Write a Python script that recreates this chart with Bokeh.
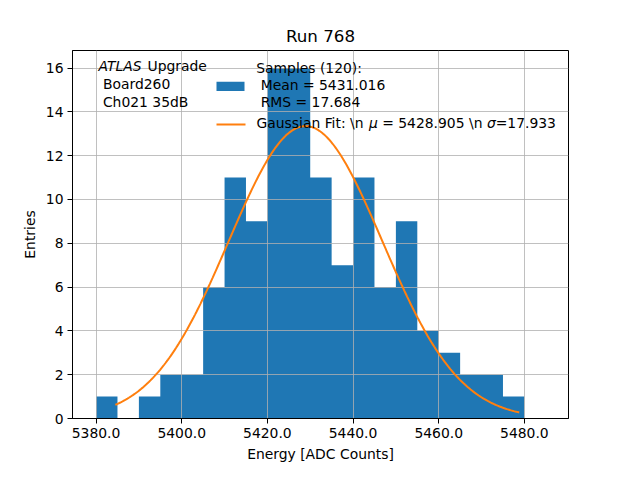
import numpy as np
from bokeh.models import BoxAnnotation, FixedTicker, Label, PrintfTickFormatter, Range1d
from bokeh.plotting import figure
from bokeh.embed import file_html
from bokeh.resources import INLINE

# histogram of the 120 samples, 5 ADC-count bins
bin_edges = [5380, 5385, 5390, 5395, 5400, 5405, 5410, 5415, 5420, 5425, 5430,
             5435, 5440, 5445, 5450, 5455, 5460, 5465, 5470, 5475, 5480]
entries = [1, 0, 1, 2, 2, 6, 11, 9, 16, 16, 11, 7, 11, 6, 9, 4, 3, 2, 2, 1]

# gaussian fit result
fit_mu = 5428.905
fit_sigma = 17.933
fit_xmin = 5384.5
fit_xmax = 5478.8

x_ticks = [5380, 5400, 5420, 5440, 5460, 5480]
y_ticks = [0, 2, 4, 6, 8, 10, 12, 14, 16]

BLUE = "#1f77b4"
ORANGE = "#ff7f0e"
FONT = "DejaVu Sans"
FS = "13.9px"

XMIN, XMAX = 5374.5, 5490.3
YMAX = 16.8


def dx(px):
    # reference pixel column -> data x
    return XMIN + (px - 80) * (XMAX - XMIN) / 496


def dy(py):
    # reference pixel row -> data y
    return (427 - py) * YMAX / 369


n_samples = sum(entries)
bin_width = bin_edges[1] - bin_edges[0]
fit_x = np.linspace(fit_xmin, fit_xmax, 300)
fit_y = n_samples * bin_width / (np.sqrt(2 * np.pi) * fit_sigma) * \
    np.exp(-0.5 * ((fit_x - fit_mu) / fit_sigma) ** 2)

p = figure(width=624, height=464, output_backend="svg", toolbar_location=None,
           x_range=Range1d(XMIN, XMAX), y_range=Range1d(0, YMAX),
           min_border_left=72, min_border_right=56, min_border_top=50,
           min_border_bottom=45, title="Run 768")
p.title.align = "center"
p.title.text_font = FONT
p.title.text_font_size = "16.7px"
p.title.text_font_style = "normal"
p.title.text_color = "black"

p.outline_line_color = "black"
p.outline_line_width = 1

# one filled step shape, so adjacent bins show no seams
bars = p.varea_step(x=bin_edges, y1=[0] * len(bin_edges),
                    y2=entries + [entries[-1]], step_mode="after",
                    fill_color=BLUE)
bars.level = "image"
p.line(fit_x, fit_y, line_color=ORANGE, line_width=2)

for ax in (p.xaxis[0], p.yaxis[0]):
    ax.axis_label_text_font = FONT
    ax.axis_label_text_font_size = FS
    ax.axis_label_text_font_style = "normal"
    ax.axis_label_text_color = "black"
    ax.major_label_text_font = FONT
    ax.major_label_text_font_size = FS
    ax.major_label_text_color = "black"
    ax.axis_line_color = "black"
    ax.major_tick_line_color = "black"
    ax.major_tick_in = 0
    ax.major_tick_out = 5
    ax.minor_tick_line_color = None
    ax.major_label_standoff = 4
    ax.axis_label_standoff = 5

p.xaxis.ticker = FixedTicker(ticks=x_ticks)
p.xaxis.formatter = PrintfTickFormatter(format="%.1f")
p.yaxis.ticker = FixedTicker(ticks=y_ticks)
p.xaxis.axis_label = "Energy [ADC Counts]"
p.yaxis.axis_label = "Entries"

for g in (p.xgrid[0], p.ygrid[0]):
    g.grid_line_color = "#b0b0b0"
    g.grid_line_width = 0.8

# text box at top left, then the legend labels
texts = [
    ("ATLAS", 106, 74, "italic"),
    ("Upgrade", 155, 74, "normal"),
    ("Board260", 110.4, 92, "normal"),
    ("Ch021 35dB", 110.4, 110, "normal"),
    ("Samples (120):", 263.7, 76, "normal"),
    ("Mean = 5431.016", 268.2, 92.5, "normal"),
    ("RMS = 17.684", 268.2, 109.5, "normal"),
    ("Gaussian Fit: \\n", 264, 131, "normal"),
    ("\u03bc", 376.5, 131, "italic"),
    ("= 5428.905 \\n", 389.7, 131, "normal"),
    ("\u03c3", 494.4, 131, "italic"),
    ("=17.933", 503.2, 131, "normal"),
]
for txt, px, py, style in texts:
    p.add_layout(Label(x=dx(px), y=dy(py), text=txt, text_font=FONT,
                       text_font_size=FS, text_font_style=style,
                       text_color="black", text_baseline="middle",
                       text_align="left"))

# legend keys
p.add_layout(BoxAnnotation(left=dx(224), right=dx(252), top=dy(89.3),
                           bottom=dy(98.7), fill_color=BLUE, fill_alpha=1,
                           line_color=None))
p.add_layout(BoxAnnotation(left=dx(224), right=dx(253), top=dy(131.3),
                           bottom=dy(133.3), fill_color=ORANGE, fill_alpha=1,
                           line_color=None))

open("out.html", "w").write(file_html(p, INLINE))
